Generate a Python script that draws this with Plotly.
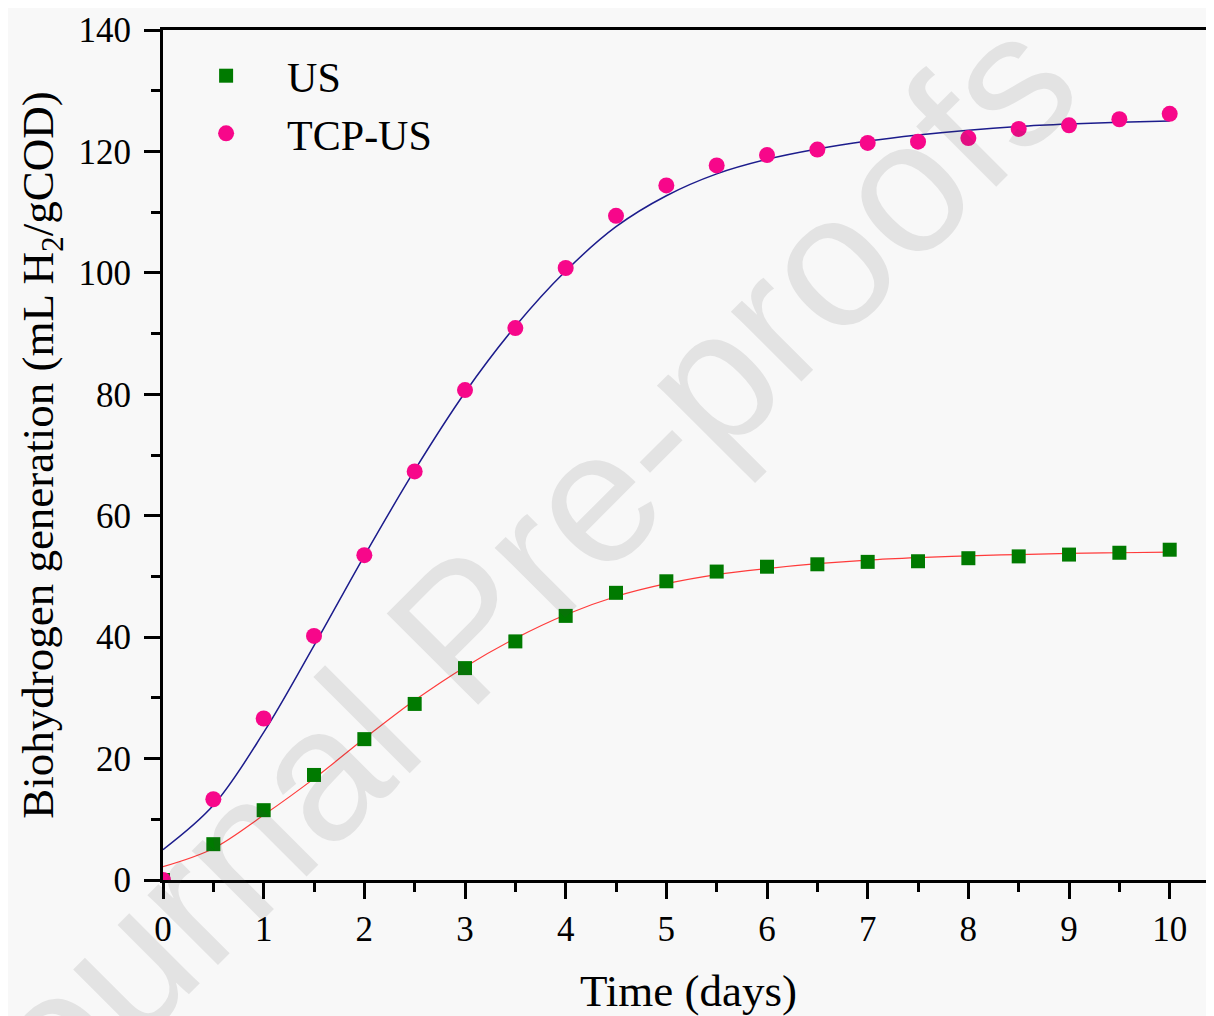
import plotly.graph_objects as go

# ---- data ----
days = [0, 0.5, 1, 1.5, 2, 2.5, 3, 3.5, 4, 4.5, 5, 5.5, 6, 6.5, 7, 7.5, 8, 8.5, 9, 9.5, 10]

us_measured = [0, 5.9, 11.5, 17.3, 23.2, 29.0, 34.9, 39.3, 43.5, 47.3, 49.2, 50.8, 51.6,
               52.0, 52.4, 52.5, 53.0, 53.3, 53.6, 53.9, 54.4]
tcp_us_measured = [0, 13.3, 26.6, 40.2, 53.5, 67.3, 80.7, 90.9, 100.8, 109.4, 114.4, 117.7,
                   119.4, 120.3, 121.4, 121.6, 122.2, 123.7, 124.3, 125.3, 126.2]

# fitted curves
us_fit = [2.2, 5.2, 10.7, 16.7, 23.3, 29.6, 35.1, 39.8, 43.7, 46.7, 48.8, 50.3, 51.3,
          52.1, 52.7, 53.1, 53.4, 53.6, 53.8, 53.9, 54.0]
tcp_us_fit = [5.0, 12.3, 24.3, 38.6, 53.4, 67.5, 80.3, 91.2, 100.3, 107.6, 112.7, 116.3,
              118.7, 120.4, 121.7, 122.7, 123.5, 124.1, 124.5, 124.8, 125.0]

x_ticks = [0, 1, 2, 3, 4, 5, 6, 7, 8, 9, 10]
y_ticks = [0, 20, 40, 60, 80, 100, 120, 140]

serif = "Liberation Serif, Times New Roman, serif"
bg = "#f8f8f8"

fig = go.Figure()

fig.add_trace(go.Scatter(x=days, y=us_fit, mode="lines", line=dict(color="#ff3b3b", width=1.2, shape="spline"),
                         showlegend=False, hoverinfo="skip"))
fig.add_trace(go.Scatter(x=days, y=tcp_us_fit, mode="lines", line=dict(color="#1c1c8c", width=1.5, shape="spline"),
                         showlegend=False, hoverinfo="skip"))
fig.add_trace(go.Scatter(x=days, y=us_measured, mode="markers", name="US",
                         marker=dict(symbol="square", size=14, color="#007a00",
                                     line=dict(width=0))))
fig.add_trace(go.Scatter(x=days, y=tcp_us_measured, mode="markers", name="TCP-US",
                         marker=dict(symbol="circle", size=16, color="#f7078a",
                                     line=dict(width=0))))

# watermark
fig.add_annotation(text="Journal Pre-proofs", xref="paper", yref="paper", x=0.316, y=0.334,
                   xanchor="center", yanchor="middle",
                   showarrow=False, textangle=-45,
                   font=dict(family="Liberation Sans, Arial, sans-serif", size=188, color="rgba(60,60,60,0.11)"))

fig.update_layout(
    width=1206, height=1008,
    margin=dict(l=155, r=0, t=22, b=136),
    paper_bgcolor=bg, plot_bgcolor=bg,
    font=dict(family=serif, color="black"),
    legend=dict(x=0.002, y=0.986, xanchor="left", yanchor="top", bgcolor="rgba(0,0,0,0)",
                font=dict(family=serif, size=42), itemwidth=112, tracegroupgap=0),
    xaxis=dict(range=[0, 10.44], tickvals=x_ticks, ticktext=[str(v) for v in x_ticks],
               ticks="outside", ticklen=16, tickwidth=3, tickcolor="black",
               showline=True, linewidth=3, linecolor="black", mirror=True,
               showgrid=False, zeroline=False,
               tickfont=dict(family=serif, size=35),
               minor=dict(dtick=0.5, tick0=0, ticks="outside", ticklen=9, tickwidth=3, tickcolor="black", showgrid=False),
               title=dict(text="Time (days)", font=dict(family=serif, size=45), standoff=28)),
    yaxis=dict(range=[0, 140], tickvals=y_ticks, ticktext=[str(v) for v in y_ticks],
               ticks="outside", ticklen=16, tickwidth=3, tickcolor="black",
               showline=True, linewidth=3, linecolor="black",
               showgrid=False, zeroline=False, ticklabelstandoff=6,
               tickfont=dict(family=serif, size=35),
               minor=dict(dtick=10, tick0=0, ticks="outside", ticklen=9, tickwidth=3, tickcolor="black", showgrid=False),
               title=dict(text="Biohydrogen generation (mL H<sub>2</sub>/gCOD)", font=dict(family=serif, size=45), standoff=11)),
)

fig.write_html("out.html")
